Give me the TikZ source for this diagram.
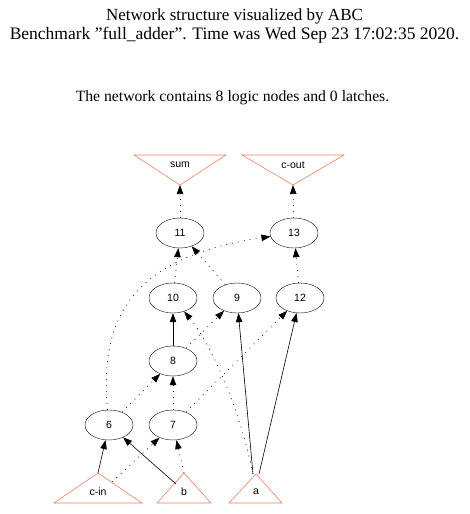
\documentclass[tikz,border=0pt]{standalone}
\usepackage{fontspec}
\setmainfont{Liberation Serif}
\newfontfamily\gatefont{Liberation Sans}
\usetikzlibrary{arrows.meta,shapes.geometric}

\definecolor{portcol}{RGB}{240,128,96}

\tikzset{
  heading/.style={font=\fontsize{17}{20}\selectfont,inner sep=0pt},
  gate/.style={draw,ellipse,minimum width=48pt,minimum height=30pt,inner sep=0pt,
    font=\gatefont\fontsize{10.5}{12}\selectfont},
  port/.style={draw=portcol,line width=0.6pt},
  portlabel/.style={inner sep=0pt,font=\gatefont\fontsize{10.5}{12}\selectfont},
  wire/.style={-{Triangle[length=9pt,width=6.5pt]},line width=0.6pt},
  dwire/.style={wire,dash pattern=on 1pt off 5pt},
}

\begin{document}
\begin{tikzpicture}[x=1pt,y=-1pt]
  \useasboundingbox (0,0) rectangle (469,514);

  % header text
  \node[heading] (head1) at (234.5,16) {Network structure visualized by ABC};
  \node[heading,font=\fontsize{17.5}{20}\selectfont] (head2) at (234.5,35) {Benchmark "full\_adder". Time was Wed Sep 23 17:02:35 2020.};
  \node[heading,font=\fontsize{15.7}{18}\selectfont] (head3) at (232.5,98) {The network contains 8 logic nodes and 0 latches.};

  % outputs
  \coordinate (sum-tip) at (180,185);
  \draw[port] (134,155) -- (226,155) -- (sum-tip) -- cycle;
  \node[portlabel] (sum) at (180,165) {sum};
  \coordinate (cout-tip) at (293,185);
  \draw[port] (242,155) -- (344,155) -- (cout-tip) -- cycle;
  \node[portlabel] (cout) at (293,165) {c-out};

  % logic nodes
  \node[gate] (n11) at (180,233) {11};
  \node[gate] (n13) at (294,233) {13};
  \node[gate] (n10) at (173,298) {10};
  \node[gate] (n9)  at (237,298) {9};
  \node[gate] (n12) at (300,298) {12};
  \node[gate] (n8)  at (173,361) {8};
  \node[gate] (n6)  at (109,425) {6};
  \node[gate] (n7)  at (173,425) {7};

  % inputs
  \coordinate (cin-tip) at (98,473);
  \coordinate (cin-r) at (112,482);
  \draw[port] (54,503) -- (cin-tip) -- (142,503) -- cycle;
  \node[portlabel] (cin) at (98,492) {c-in};
  \coordinate (b-tip) at (184,473);
  \coordinate (b-l) at (176,484);
  \draw[port] (157,503) -- (b-tip) -- (211,503) -- cycle;
  \node[portlabel] (b) at (184,492) {b};
  \coordinate (a-tip) at (256,474);
  \draw[port] (229,503) -- (a-tip) -- (282,503) -- cycle;
  \node[portlabel] (a) at (256,492) {a};

  % connections
  \draw[dwire] (n11) -- (sum-tip);
  \draw[dwire] (n13) -- (cout-tip);
  \draw[dwire] (n10) -- (n11);
  \draw[dwire] (n9) -- (n11);
  \draw[dwire] (n12) -- (n13);
  \draw[dwire] (n6) .. controls (98,310) and (140,256) .. (n13);
  \draw[wire] (n8) -- (n10);
  \draw[dwire] (n8) -- (n9);
  \draw[dwire] (n7) -- (n12);
  \draw[wire] ([xshift=-3pt]a-tip) -- (n9);
  \draw[wire] ([xshift=3pt]a-tip) -- (n12);
  \draw[dwire] ([xshift=-3pt]a-tip) .. controls (240,410) and (212,345) .. (n10);
  \draw[dwire] (n6) -- (n8);
  \draw[dwire] (n7) -- (n8);
  \draw[wire] (cin-tip) -- (n6);
  \draw[wire] (b-l) -- (n6);
  \draw[dwire] (cin-r) -- (n7);
  \draw[dwire] (b-tip) -- (n7);
\end{tikzpicture}
\end{document}
